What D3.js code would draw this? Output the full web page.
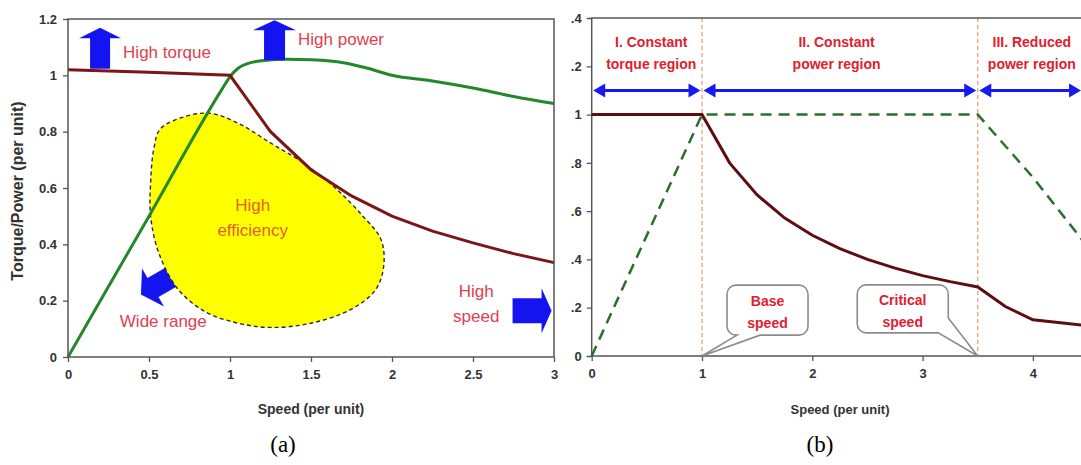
<!DOCTYPE html>
<html><head><meta charset="utf-8">
<script src="https://cdn.jsdelivr.net/npm/d3@7"></script>
<style>html,body{margin:0;padding:0;background:#fff;overflow:hidden}</style>
</head><body><svg id="c" width="1081" height="465"></svg>
<script>
// ===== Panel (a) data =====
const torqueSpeedA = [0, 0.5, 1.0, 1.25, 1.5, 1.75, 2.0, 2.25, 2.5, 2.75, 3.0];
const torqueA      = [1.02, 1.011, 1.0, 0.80, 0.665, 0.572, 0.50, 0.447, 0.405, 0.367, 0.335];
const powerSpeedA  = [0, 0.5, 0.95, 1.0, 1.05, 1.1, 1.2, 1.35, 1.5, 1.7, 1.85, 2.0, 2.25, 2.5, 2.75, 3.0];
const powerA       = [0, 0.5, 0.95, 0.995, 1.025, 1.04, 1.052, 1.057, 1.055, 1.045, 1.025, 1.0, 0.98, 0.955, 0.925, 0.9];
const effRegionX   = [0.57, 0.73, 0.88, 1.05, 1.25, 1.45, 1.65, 1.82, 1.93, 1.95, 1.90, 1.75, 1.50, 1.25, 1.05, 0.85, 0.68, 0.56, 0.51, 0.51, 0.53];
const effRegionY   = [0.81, 0.855, 0.865, 0.83, 0.76, 0.69, 0.60, 0.50, 0.42, 0.33, 0.24, 0.17, 0.12, 0.105, 0.12, 0.16, 0.24, 0.37, 0.50, 0.62, 0.74];
const xTicksA = [0, 0.5, 1, 1.5, 2, 2.5, 3];
const yTicksA = [0, 0.2, 0.4, 0.6, 0.8, 1, 1.2];

// ===== Panel (b) data =====
const torqueSpeedB = [0, 1.0, 1.25, 1.5, 1.75, 2.0, 2.25, 2.5, 2.75, 3.0, 3.25, 3.5, 3.75, 4.0, 4.25, 4.5];
const torqueB      = [1.0, 1.0, 0.80, 0.667, 0.571, 0.50, 0.445, 0.40, 0.364, 0.333, 0.308, 0.286, 0.205, 0.15, 0.138, 0.125];
const powerSpeedB  = [0, 1.0, 3.5, 4.0, 4.5];
const powerB       = [0, 1.0, 1.0, 0.74, 0.45];
const regionBounds = [0, 1, 3.5, 4.45];
const regionLine1  = ["I. Constant", "II. Constant", "III. Reduced"];
const regionLine2  = ["torque region", "power region", "power region"];
const xTicksB = [0, 1, 2, 3, 4];
const yTicksB = [0, 0.2, 0.4, 0.6, 0.8, 1, 1.2, 1.4];

// ===== layout / styles =====
const FONT = "'Liberation Sans', Arial, sans-serif";
const svg = d3.select('#c');
const xA = d3.scaleLinear().domain([0, 3]).range([68, 554]);
const yA = d3.scaleLinear().domain([0, 1.2]).range([357, 19]);
const xB = d3.scaleLinear().domain([0, 5]).range([591.7, 1143.2]);
const yB = d3.scaleLinear().domain([0, 1.4]).range([356, 18]);
const fmt = d => Number.isInteger(d) ? String(d) : d3.format('.1f')(d);

function styleAxis(g) {
  g.selectAll('.domain').remove();
  g.selectAll('.tick line').attr('stroke', '#555').attr('stroke-width', 1.3);
  g.selectAll('.tick text').attr('fill', '#333').attr('font-family', FONT)
    .attr('font-weight', 'bold').attr('font-size', 13);
}

function arrowPath(len, headLen, shaftHalf, headHalf) {
  const p = d3.path();
  p.moveTo(0, 0);
  p.lineTo(-headLen, -headHalf);
  p.lineTo(-headLen, -shaftHalf);
  p.lineTo(-len, -shaftHalf);
  p.lineTo(-len, shaftHalf);
  p.lineTo(-headLen, shaftHalf);
  p.lineTo(-headLen, headHalf);
  p.closePath();
  return p.toString();
}

// ================= Panel (a) =================
const gA = svg.append('g');
const axA = gA.append('g').attr('transform', `translate(0,${yA(0)})`)
  .call(d3.axisBottom(xA).tickValues(xTicksA).tickSize(5).tickPadding(8).tickFormat(fmt));
styleAxis(axA);
const ayA = gA.append('g').attr('transform', `translate(${xA(0)},0)`)
  .call(d3.axisLeft(yA).tickValues(yTicksA).tickSize(5).tickPadding(6).tickFormat(fmt));
styleAxis(ayA);

// blue block arrows (behind efficiency region / lines)
const blockArrows = [
  { x: 0.45, y: 0.222, len: 44, head: 14, sh: 11, hh: 22, rot: 150 },
  { x: 2.985, y: 0.164, len: 39, head: 10, sh: 12.5, hh: 22.5, rot: 0 }
];
gA.selectAll('path.barrow').data(blockArrows).join('path').attr('class', 'barrow')
  .attr('d', d => arrowPath(d.len, d.head, d.sh, d.hh))
  .attr('transform', d => `translate(${xA(d.x)},${yA(d.y)}) rotate(${d.rot})`)
  .attr('fill', '#1414f0');

// efficiency region
const effPts = effRegionX.map((x, i) => [xA(x), yA(effRegionY[i])]);
gA.append('path').attr('d', d3.line().curve(d3.curveCatmullRomClosed.alpha(0.5))(effPts))
  .attr('fill', '#ffff00').attr('stroke', '#2a2a2a').attr('stroke-width', 1.4)
  .attr('stroke-dasharray', '4,3');

// lines
gA.append('path')
  .attr('d', d3.line().curve(d3.curveMonotoneX)(powerSpeedA.map((x, i) => [xA(x), yA(powerA[i])])))
  .attr('fill', 'none').attr('stroke', '#22882a').attr('stroke-width', 3);
gA.append('path')
  .attr('d', d3.line()(torqueSpeedA.map((x, i) => [xA(x), yA(torqueA[i])])))
  .attr('fill', 'none').attr('stroke', '#7c1518').attr('stroke-width', 3);

// up arrows
const upArrows = [
  { x: 0.198, y: 1.169, len: 41, head: 10.5, sh: 10, hh: 21 },
  { x: 1.275, y: 1.196, len: 40, head: 10, sh: 10.5, hh: 21.5 }
];
gA.selectAll('path.uarrow').data(upArrows).join('path').attr('class', 'uarrow')
  .attr('d', d => arrowPath(d.len, d.head, d.sh, d.hh))
  .attr('transform', d => `translate(${xA(d.x)},${yA(d.y)}) rotate(-90)`)
  .attr('fill', '#1414f0');

// frame
gA.append('rect').attr('x', xA(0)).attr('y', yA(1.2)).attr('width', xA(3) - xA(0))
  .attr('height', yA(0) - yA(1.2)).attr('fill', 'none').attr('stroke', '#555').attr('stroke-width', 1.5);

// annotation texts
const annA = [
  { t: 'High torque', x: 0.34, y: 1.061, anchor: 'start', c: '#e0404f' },
  { t: 'High power', x: 1.42, y: 1.108, anchor: 'start', c: '#e0404f' },
  { t: 'High', x: 1.14, y: 0.520, anchor: 'middle', c: '#e3621d' },
  { t: 'efficiency', x: 1.14, y: 0.428, anchor: 'middle', c: '#e3621d' },
  { t: 'Wide range', x: 0.32, y: 0.107, anchor: 'start', c: '#e0404f' },
  { t: 'High', x: 2.52, y: 0.213, anchor: 'middle', c: '#e0404f' },
  { t: 'speed', x: 2.52, y: 0.124, anchor: 'middle', c: '#e0404f' }
];
gA.selectAll('text.ann').data(annA).join('text').attr('class', 'ann')
  .attr('x', d => xA(d.x)).attr('y', d => yA(d.y)).attr('text-anchor', d => d.anchor)
  .attr('fill', d => d.c).attr('font-family', FONT).attr('font-size', 17).text(d => d.t);

gA.append('text').attr('x', (xA(0) + xA(3)) / 2).attr('y', 414).attr('text-anchor', 'middle')
  .attr('font-family', FONT).attr('font-weight', 'bold').attr('font-size', 14).attr('fill', '#333')
  .text('Speed (per unit)');
gA.append('text').attr('transform', `translate(23,191) rotate(-90)`)
  .attr('text-anchor', 'middle').attr('font-family', FONT).attr('font-weight', 'bold')
  .attr('font-size', 16).attr('fill', '#333').text('Torque/Power (per unit)');
svg.append('text').attr('x', 283).attr('y', 452).attr('text-anchor', 'middle')
  .attr('font-family', "'Liberation Serif', 'Times New Roman', serif").attr('font-size', 23)
  .attr('fill', '#000').text('(a)');

// ================= Panel (b) =================
svg.append('clipPath').attr('id', 'clipB').append('rect')
  .attr('x', 571.2).attr('y', 0).attr('width', 1081 - 571.2).attr('height', 465);
const gB = svg.append('g').attr('clip-path', 'url(#clipB)');

const axB = gB.append('g').attr('transform', `translate(0,${yB(0)})`)
  .call(d3.axisBottom(xB).tickValues(xTicksB).tickSize(5).tickPadding(8).tickFormat(fmt));
styleAxis(axB);
const ayB = gB.append('g').attr('transform', `translate(${xB(0)},0)`)
  .call(d3.axisLeft(yB).tickValues(yTicksB).tickSize(5).tickPadding(5).tickFormat(fmt));
styleAxis(ayB);

// vertical dashed boundaries
gB.selectAll('line.vb').data([regionBounds[1], regionBounds[2]]).join('line').attr('class', 'vb')
  .attr('x1', d => xB(d)).attr('x2', d => xB(d)).attr('y1', yB(1.4)).attr('y2', yB(0))
  .attr('stroke', '#e89870').attr('stroke-width', 1.2).attr('stroke-dasharray', '4,3');

// frame lines
gB.append('path').attr('d', `M${xB(5)},${yB(1.4)}H${xB(0)}V${yB(0)}H${xB(5)}`)
  .attr('fill', 'none').attr('stroke', '#555').attr('stroke-width', 1.5);

// power (dashed)
gB.append('path')
  .attr('d', d3.line()(powerSpeedB.map((x, i) => [xB(x), yB(powerB[i])])))
  .attr('fill', 'none').attr('stroke', '#2c6e2c').attr('stroke-width', 2.5).attr('stroke-dasharray', '11,7');
// torque
gB.append('path')
  .attr('d', d3.line()(torqueSpeedB.map((x, i) => [xB(x), yB(torqueB[i])])))
  .attr('fill', 'none').attr('stroke', '#5e0e12').attr('stroke-width', 3);

// region double arrows at y = 1.1
const regions = regionLine1.map((l, i) => ({ a: regionBounds[i], b: regionBounds[i + 1], l1: l, l2: regionLine2[i] }));
const aY = yB(1.1), hl = 12, hh = 7;
regions.forEach(r => {
  const x0 = xB(r.a) + 1.5, x1 = xB(r.b) - 1.5;
  gB.append('line').attr('x1', x0 + hl - 2).attr('x2', x1 - hl + 2).attr('y1', aY).attr('y2', aY)
    .attr('stroke', '#1818f0').attr('stroke-width', 3);
  gB.append('path').attr('d', `M${x0},${aY}L${x0 + hl},${aY - hh}L${x0 + hl},${aY + hh}Z`).attr('fill', '#1818f0');
  gB.append('path').attr('d', `M${x1},${aY}L${x1 - hl},${aY - hh}L${x1 - hl},${aY + hh}Z`).attr('fill', '#1818f0');
});
const regionLabelX = [0.54, 2.22, 3.99];
regions.forEach((r, i) => {
  gB.append('text').attr('x', xB(regionLabelX[i])).attr('y', 47).attr('text-anchor', 'middle')
    .attr('font-family', FONT).attr('font-weight', 'bold').attr('font-size', 14).attr('fill', '#e0202e').text(r.l1);
  gB.append('text').attr('x', xB(regionLabelX[i])).attr('y', 69).attr('text-anchor', 'middle')
    .attr('font-family', FONT).attr('font-weight', 'bold').attr('font-size', 14).attr('fill', '#e0202e').text(r.l2);
});

// callouts
function calloutPath(x0, y0, x1, y1, r, tip, side) {
  const p = d3.path();
  p.moveTo(x0 + r, y0);
  p.lineTo(x1 - r, y0);
  p.arcTo(x1, y0, x1, y0 + r, r);
  if (side === 'corner') {
    p.lineTo(x1, y1 - 15);
    p.lineTo(tip[0], tip[1]);
    p.lineTo(x1 - 10, y1);
  } else {
    p.lineTo(x1, y1 - r);
    p.arcTo(x1, y1, x1 - r, y1, r);
    p.lineTo(x0 + 33, y1);
    p.lineTo(tip[0], tip[1]);
    p.lineTo(x0 + 10, y1);
  }
  p.lineTo(x0 + r, y1);
  p.arcTo(x0, y1, x0, y1 - r, r);
  p.lineTo(x0, y0 + r);
  p.arcTo(x0, y0, x0 + r, y0, r);
  p.closePath();
  return p.toString();
}
const callouts = [
  { tipX: regionBounds[1], cx: 1.594, cy: 0.19, w: 81, h: 50, side: 'bottom', l1: 'Base', l2: 'speed' },
  { tipX: regionBounds[2], cx: 2.82, cy: 0.195, w: 91, h: 48, side: 'corner', l1: 'Critical', l2: 'speed' }
];
callouts.forEach(c => {
  const cx = xB(c.cx), cy = yB(c.cy);
  const x0 = cx - c.w / 2, x1 = cx + c.w / 2, y0 = cy - c.h / 2, y1 = cy + c.h / 2;
  gB.append('path').attr('d', calloutPath(x0, y0, x1, y1, 9, [xB(c.tipX), yB(0)], c.side))
    .attr('fill', '#fff').attr('stroke', '#8c8c8c').attr('stroke-width', 1.6);
  gB.append('text').attr('x', cx).attr('y', cy - 4).attr('text-anchor', 'middle')
    .attr('font-family', FONT).attr('font-weight', 'bold').attr('font-size', 14).attr('fill', '#e0202e').text(c.l1);
  gB.append('text').attr('x', cx).attr('y', cy + 18).attr('text-anchor', 'middle')
    .attr('font-family', FONT).attr('font-weight', 'bold').attr('font-size', 14).attr('fill', '#e0202e').text(c.l2);
});

gB.append('text').attr('x', 840).attr('y', 414).attr('text-anchor', 'middle')
  .attr('font-family', FONT).attr('font-weight', 'bold').attr('font-size', 13).attr('fill', '#333')
  .text('Speed (per unit)');
svg.append('text').attr('x', 820).attr('y', 452).attr('text-anchor', 'middle')
  .attr('font-family', "'Liberation Serif', 'Times New Roman', serif").attr('font-size', 23)
  .attr('fill', '#000').text('(b)');
</script>
</body></html>
